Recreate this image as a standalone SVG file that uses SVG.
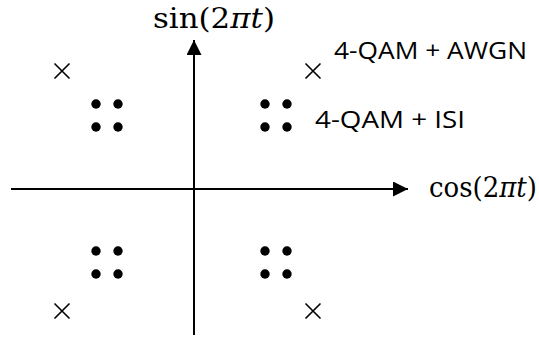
<svg xmlns="http://www.w3.org/2000/svg" width="539" height="338" viewBox="0 0 539 338">
<style>
.ax{stroke:#000;stroke-width:2;fill:none}
.x{stroke:#000;stroke-width:1.6;fill:none}
.dot{fill:#000}
.lbl{font-family:"Open Sans","DejaVu Sans",sans-serif;font-size:23px;fill:#000}
.math{font-family:"DejaVu Serif","Liberation Serif",serif;font-size:27px;fill:#000}
.it{font-style:italic}
</style>
<defs>
<marker id="arr" markerWidth="15" markerHeight="15" refX="15" refY="7.5" orient="auto" markerUnits="userSpaceOnUse">
<path d="M0,0 L15,7.5 L0,15 Z" fill="#000"/>
</marker>
<g id="xm"><path class="x" d="M-7.5,-7.5 L7.5,7.5 M-7.5,7.5 L7.5,-7.5"/></g>
<g id="quad">
<circle class="dot" cx="0" cy="0" r="4.7"/>
<circle class="dot" cx="22" cy="0" r="4.7"/>
<circle class="dot" cx="0" cy="23" r="4.7"/>
<circle class="dot" cx="22" cy="23" r="4.7"/>
</g>
</defs>
<g id="connectors">
<line class="ax" x1="11" y1="189" x2="408" y2="189" marker-end="url(#arr)"/>
<line class="ax" x1="194" y1="335" x2="194" y2="40" marker-end="url(#arr)"/>
</g>
<g id="awgn-ul"><use href="#xm" x="62" y="71"/></g>
<g id="awgn-ur"><use href="#xm" x="313" y="71"/></g>
<g id="awgn-ll"><use href="#xm" x="62" y="311"/></g>
<g id="awgn-lr"><use href="#xm" x="313" y="311"/></g>
<g id="isi-ul"><use href="#quad" x="96" y="104"/></g>
<g id="isi-ur"><use href="#quad" x="265" y="104"/></g>
<g id="isi-ll"><use href="#quad" x="96" y="251"/></g>
<g id="isi-lr"><use href="#quad" x="265" y="251"/></g>
<g id="label-awgn"><text class="lbl" x="334" y="59" textLength="193" lengthAdjust="spacingAndGlyphs">4-QAM + AWGN</text></g>
<g id="label-isi"><text class="lbl" x="315" y="128" textLength="150" lengthAdjust="spacingAndGlyphs">4-QAM + ISI</text></g>
<g id="label-sin"><text class="math" x="153" y="28" textLength="122" lengthAdjust="spacingAndGlyphs">sin(2<tspan class="it">πt</tspan>)</text></g>
<g id="label-cos"><text class="math" x="429" y="197" textLength="108" lengthAdjust="spacingAndGlyphs">cos(2<tspan class="it">πt</tspan>)</text></g>
</svg>
